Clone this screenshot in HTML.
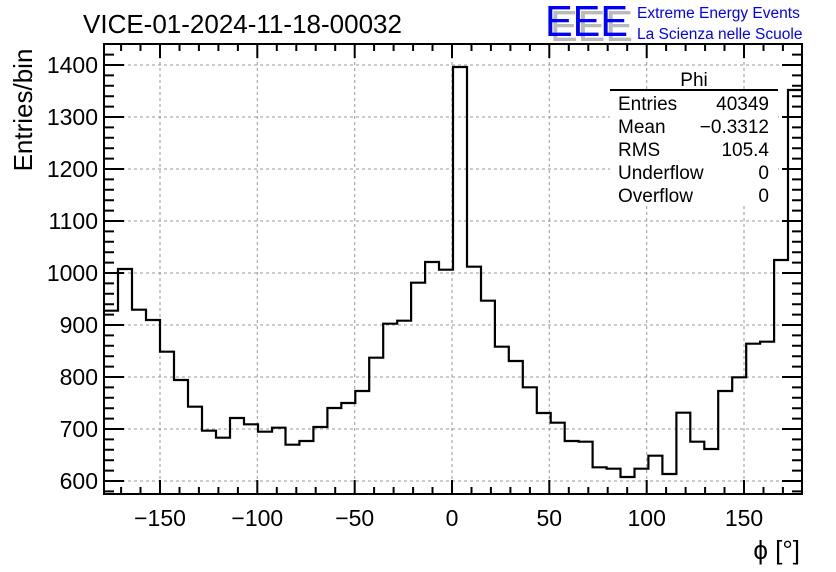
<!DOCTYPE html>
<html><head><meta charset="utf-8"><style>
html,body{margin:0;padding:0;background:#fff;}
svg{display:block;font-family:"Liberation Sans",Arial,sans-serif;}
</style></head><body>
<svg width="836" height="572" viewBox="0 0 836 572" xmlns="http://www.w3.org/2000/svg">
<rect width="836" height="572" fill="#fff"/>
<path stroke="#999" stroke-width="1" stroke-dasharray="3,3" fill="none" d="M160 44V494M257.3 44V494M354.7 44V494M452 44V494M549.3 44V494M646.7 44V494M744 44V494M104 481H802M104 429H802M104 377H802M104 325H802M104 273H802M104 221H802M104 169H802M104 117H802M104 65H802"/>
<rect x="610" y="90" width="168" height="116" fill="#fff"/>
<path fill="none" stroke="#000" stroke-width="2.2" d="M104 310.7 H118 V269 H132 V309.7 H146 V320 H160 V351.7 H174 V380 H188 V406.7 H202 V430.7 H216 V437.7 H230 V418 H244 V424.3 H258 V431.7 H272 V427.7 H285.5 V444.7 H299.4 V441 H313.4 V427 H327.4 V408 H341.3 V403 H355.3 V391 H369.2 V357.7 H383.2 V323.7 H397.2 V320.7 H411.1 V282.7 H425.1 V262 H439 V269.7 H453 V67 H467 V266.7 H481 V300.7 H494.9 V346.7 H508.8 V361 H522.8 V387.3 H536.8 V413 H550.7 V422.7 H564.7 V441 H578.6 V441.7 H592.6 V467.3 H606.6 V468.7 H620.5 V477 H634.5 V468.7 H648.4 V455.7 H662.4 V474 H676.4 V412.7 H690.3 V441.7 H704.3 V449 H718.2 V391 H732.2 V377.3 H746.2 V343.7 H760.1 V341.7 H774.1 V260 H788 V90 H802"/>
<path stroke="#000" stroke-width="2" fill="none" d="
M160 494v-14M257.3 494v-14M354.7 494v-14M452 494v-14M549.3 494v-14M646.7 494v-14M744 494v-14
M160 44v14M257.3 44v14M354.7 44v14M452 44v14M549.3 44v14M646.7 44v14M744 44v14
M121.1 494v-7M140.5 494v-7M179.5 494v-7M198.9 494v-7M218.4 494v-7M237.9 494v-7M276.8 494v-7M296.3 494v-7M315.7 494v-7M335.2 494v-7M374.1 494v-7M393.6 494v-7M413.1 494v-7M432.5 494v-7M471.5 494v-7M490.9 494v-7M510.4 494v-7M529.9 494v-7M568.8 494v-7M588.3 494v-7M607.7 494v-7M627.2 494v-7M666.1 494v-7M685.6 494v-7M705.1 494v-7M724.5 494v-7M763.5 494v-7M782.9 494v-7
M121.1 44v7M140.5 44v7M179.5 44v7M198.9 44v7M218.4 44v7M237.9 44v7M276.8 44v7M296.3 44v7M315.7 44v7M335.2 44v7M374.1 44v7M393.6 44v7M413.1 44v7M432.5 44v7M471.5 44v7M490.9 44v7M510.4 44v7M529.9 44v7M568.8 44v7M588.3 44v7M607.7 44v7M627.2 44v7M666.1 44v7M685.6 44v7M705.1 44v7M724.5 44v7M763.5 44v7M782.9 44v7
M104 481h20M104 429h20M104 377h20M104 325h20M104 273h20M104 221h20M104 169h20M104 117h20M104 65h20
M802 481h-20M802 429h-20M802 377h-20M802 325h-20M802 273h-20M802 221h-20M802 169h-20M802 117h-20M802 65h-20
M104 491.4h10M104 470.6h10M104 460.2h10M104 449.8h10M104 439.4h10M104 418.6h10M104 408.2h10M104 397.8h10M104 387.4h10M104 366.6h10M104 356.2h10M104 345.8h10M104 335.4h10M104 314.6h10M104 304.2h10M104 293.8h10M104 283.4h10M104 262.6h10M104 252.2h10M104 241.8h10M104 231.4h10M104 210.6h10M104 200.2h10M104 189.8h10M104 179.4h10M104 158.6h10M104 148.2h10M104 137.8h10M104 127.4h10M104 106.6h10M104 96.2h10M104 85.8h10M104 75.4h10M104 54.6h10
M802 491.4h-10M802 470.6h-10M802 460.2h-10M802 449.8h-10M802 439.4h-10M802 418.6h-10M802 408.2h-10M802 397.8h-10M802 387.4h-10M802 366.6h-10M802 356.2h-10M802 345.8h-10M802 335.4h-10M802 314.6h-10M802 304.2h-10M802 293.8h-10M802 283.4h-10M802 262.6h-10M802 252.2h-10M802 241.8h-10M802 231.4h-10M802 210.6h-10M802 200.2h-10M802 189.8h-10M802 179.4h-10M802 158.6h-10M802 148.2h-10M802 137.8h-10M802 127.4h-10M802 106.6h-10M802 96.2h-10M802 85.8h-10M802 75.4h-10M802 54.6h-10"/>
<rect x="104" y="44" width="698" height="450" fill="none" stroke="#000" stroke-width="2"/>
<g font-size="23" fill="#000" text-anchor="middle">
<text x="160" y="526">−150</text><text x="257.3" y="526">−100</text><text x="354.7" y="526">−50</text><text x="452" y="526">0</text><text x="549.3" y="526">50</text><text x="646.7" y="526">100</text><text x="744" y="526">150</text>
</g>
<g font-size="23" fill="#000" text-anchor="end">
<text x="98" y="489">600</text><text x="98" y="437">700</text><text x="98" y="385">800</text><text x="98" y="333">900</text><text x="98" y="281">1000</text><text x="98" y="229">1100</text><text x="98" y="177">1200</text><text x="98" y="125">1300</text><text x="98" y="73">1400</text>
</g>
<text x="83" y="33" font-size="26">VICE-01-2024-11-18-00032</text>
<text transform="translate(32,110) rotate(-90)" text-anchor="middle" font-size="26">Entries/bin</text>
<text x="800" y="559" text-anchor="end" font-size="26">ϕ [°]</text>
<text x="550" y="41" font-size="44" fill="#bbb" textLength="83" lengthAdjust="spacingAndGlyphs">EEE</text>
<text x="545" y="36" font-size="44" fill="#0000ff" textLength="83" lengthAdjust="spacingAndGlyphs">EEE</text>
<text x="637" y="18" font-size="15.5" fill="#0000ff">Extreme Energy Events</text>
<text x="637" y="39" font-size="15.5" fill="#0000ff">La Scienza nelle Scuole</text>
<text x="694" y="86" text-anchor="middle" font-size="19">Phi</text>
<line x1="610" y1="90" x2="778" y2="90" stroke="#000" stroke-width="2"/>
<g font-size="19">
<text x="618" y="110">Entries</text><text x="769" y="110" text-anchor="end">40349</text>
<text x="618" y="133">Mean</text><text x="769" y="133" text-anchor="end">−0.3312</text>
<text x="618" y="156">RMS</text><text x="769" y="156" text-anchor="end">105.4</text>
<text x="618" y="179">Underflow</text><text x="769" y="179" text-anchor="end">0</text>
<text x="618" y="202">Overflow</text><text x="769" y="202" text-anchor="end">0</text>
</g>
</svg>
</body></html>
